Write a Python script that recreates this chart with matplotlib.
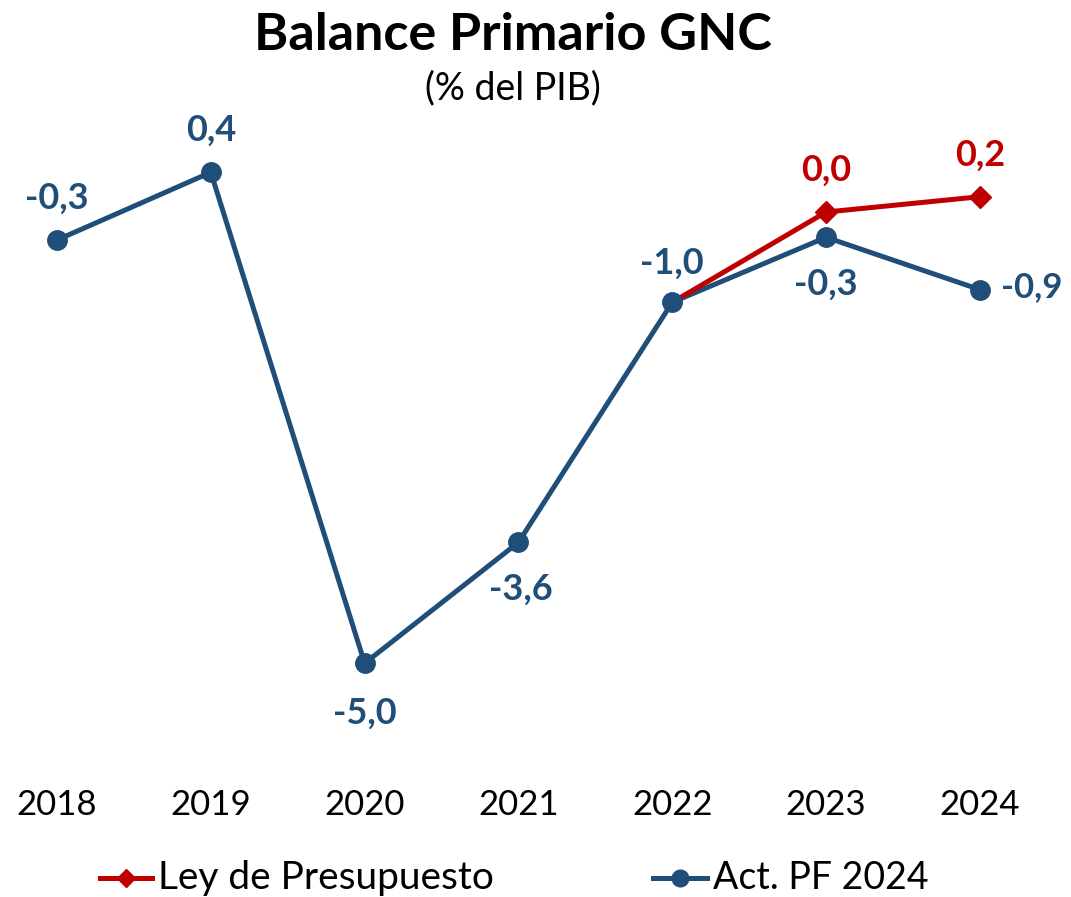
import matplotlib.pyplot as plt
import numpy as np

plt.rcParams['font.family'] = ['Lato', 'DejaVu Sans']

years = ["2018", "2019", "2020", "2021", "2022", "2023", "2024"]
act_pf = [-0.31, 0.44, -5.0, -3.66, -1.0, -0.28, -0.86]
act_labels = ["-0,3", "0,4", "-5,0", "-3,6", "-1,0", "-0,3", "-0,9"]
ley_years = ["2022", "2023", "2024"]
ley_pres = [-1.0, 0.0, 0.17]
ley_labels = [None, "0,0", "0,2"]

blue = "#1F4E79"
red = "#C00000"

fig = plt.figure(figsize=(10.71, 8.97), dpi=100)
ax = fig.add_axes([0, 0.1527, 1, 0.7246])

x = np.arange(len(years))
xl = [years.index(y) for y in ley_years]

ax.plot(x, act_pf, color=blue, lw=3.6, zorder=2, solid_capstyle='round')
ax.plot(xl, ley_pres, color=red, lw=3.6, zorder=3, marker='D', ms=11,
        markevery=[1, 2], solid_capstyle='round')
ax.plot(x, act_pf, ls='none', marker='o', ms=14, color=blue, zorder=4)

# data label offsets (points) and alignment
act_off = [(0, 30), (0, 30), (0, -36), (2, -34), (0, 28), (0, -34), (15, 2)]
act_ha = ['center'] * 6 + ['left']
for i, (v, lab) in enumerate(zip(act_pf, act_labels)):
    dx, dy = act_off[i]
    ax.annotate(lab, (x[i], v), xytext=(dx, dy), textcoords='offset points',
                ha=act_ha[i], va='center', fontsize=26 if i < 6 else 25,
                fontweight='bold', color=blue)
for xi, v, lab in zip(xl, ley_pres, ley_labels):
    if lab is None:
        continue
    ax.annotate(lab, (xi, v), xytext=(0, 30), textcoords='offset points',
                ha='center', va='center', fontsize=26, fontweight='bold', color=red)

ax.set_xlim(-0.3705, 6.592)
ax.set_ylim(-6.072, 1.13)
ax.axis('off')

# category labels under the plot
for i, y in enumerate(years):
    ax.annotate(y, (x[i], 1 - 805 / 897), xycoords=('data', 'figure fraction'),
                ha='center', va='center', fontsize=25, color='black',
                annotation_clip=False)

fig.text(0.479, 1 - 35 / 897, "Balance Primario GNC", ha='center', va='center',
         fontsize=37.5, fontweight='bold')
fig.text(0.479, 1 - 88 / 897, "(% del PIB)", ha='center', va='center', fontsize=27)

# legend
ly = 1 - 878 / 897
fig.add_artist(plt.Line2D([100 / 1071, 152 / 1071], [ly, ly], color=red, lw=3.6))
fig.add_artist(plt.Line2D([126 / 1071], [ly], color=red, marker='D', ms=9, ls='none'))
fig.text(158 / 1071, ly, "Ley de Presupuesto", ha='left', va='center', fontsize=28)
fig.add_artist(plt.Line2D([653 / 1071, 707 / 1071], [ly, ly], color=blue, lw=3.6))
fig.add_artist(plt.Line2D([680 / 1071], [ly], color=blue, marker='o', ms=12, ls='none'))
fig.text(713 / 1071, ly, "Act. PF 2024", ha='left', va='center', fontsize=27)

fig.savefig("out.png", dpi=100)
